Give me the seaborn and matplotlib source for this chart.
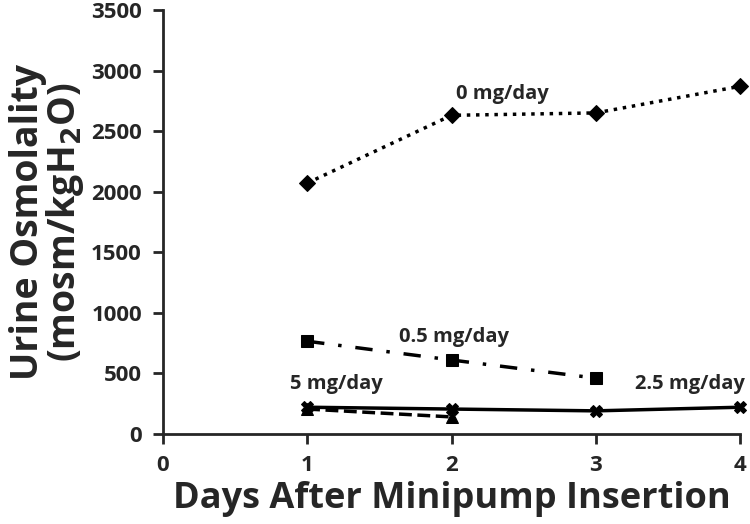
import matplotlib
matplotlib.use("Agg")
import matplotlib.pyplot as plt
import pandas as pd
import seaborn as sns

# values
days_0 = [1, 2, 3, 4]
osm_0 = [2070, 2630, 2650, 2870]
days_05 = [1, 2, 3]
osm_05 = [765, 610, 460]
days_25 = [1, 2, 3, 4]
osm_25 = [220, 205, 190, 220]
days_5 = [1, 2]
osm_5 = [205, 140]

x_ticks = [0, 1, 2, 3, 4]
y_ticks = [0, 500, 1000, 1500, 2000, 2500, 3000, 3500]

sns.set_style("ticks")
plt.rcParams['font.family'] = ['Open Sans', 'DejaVu Sans']
plt.rcParams['font.weight'] = 'bold'

fig = plt.figure(figsize=(7.5, 5.24), dpi=100)
ax = fig.add_axes([0.217, 0.172, 0.77, 0.809])

series = [
    (days_0, osm_0, ':', 'D', 8),
    (days_05, osm_05, (0, (5, 4, 1, 4)), 's', 9),
    (days_25, osm_25, '-', 'X', 9),
    (days_5, osm_5, '--', '^', 8),
]
for d, v, ls, mk, ms in series:
    df = pd.DataFrame({'day': d, 'osm': v})
    sns.lineplot(data=df, x='day', y='osm', ax=ax, color='black', linewidth=2.5,
                 linestyle=ls, marker=mk, markersize=ms, markeredgecolor='black')

ax.text(2.35, 2720, '0 mg/day', fontsize=14.5, fontweight='bold', ha='center', va='bottom')
ax.text(2.02, 720, '0.5 mg/day', fontsize=14.5, fontweight='bold', ha='center', va='bottom')
ax.text(1.2, 330, '5 mg/day', fontsize=14.5, fontweight='bold', ha='center', va='bottom')
ax.text(4.03, 330, '2.5 mg/day', fontsize=14.5, fontweight='bold', ha='right', va='bottom')

ax.set_xlim(0, 4)
ax.set_ylim(0, 3500)
ax.set_xticks(x_ticks)
ax.set_yticks(y_ticks)
ax.tick_params(axis='both', labelsize=16, width=2, length=7, direction='out', pad=8)
for lbl in ax.get_xticklabels() + ax.get_yticklabels():
    lbl.set_fontweight('bold')
for s in ['left', 'bottom']:
    ax.spines[s].set_linewidth(2)
sns.despine(ax=ax)
for ln in ax.get_lines():
    ln.set_clip_on(False)

ax.set_xlabel('Days After Minipump Insertion', fontsize=26, fontweight='bold', labelpad=4)
ax.set_ylabel('Urine Osmolality\n(mosm/kgH$_\\mathbf{2}$O)', fontsize=27, fontweight='bold',
              labelpad=4, linespacing=0.9)

fig.savefig('out.png', dpi=100)
